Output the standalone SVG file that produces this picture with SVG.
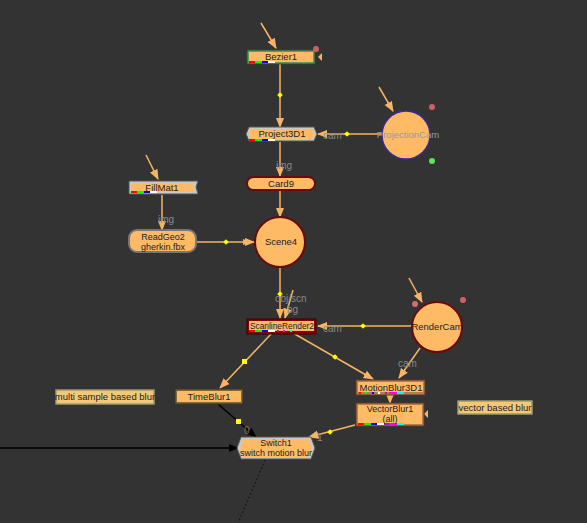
<svg xmlns="http://www.w3.org/2000/svg" width="587" height="523" viewBox="0 0 587 523">
<defs>
<marker id="ah" viewBox="0 0 10 10" refX="9" refY="5" markerWidth="7" markerHeight="7" orient="auto"><path d="M0,1 L10,5 L0,9 Z" fill="#f5b466"/></marker>
<marker id="ahk" viewBox="0 0 10 10" refX="9" refY="5" markerWidth="7" markerHeight="7" orient="auto"><path d="M0,1 L10,5 L0,9 Z" fill="#000"/></marker>
<style>
.bg{fill:#333333}
.c{stroke:#f5b466;stroke-width:1.5;fill:none}
.k{stroke:#000;stroke-width:1.5;fill:none}
.n{fill:#ffba66}
.t{font-family:"Liberation Sans",Arial,sans-serif;font-size:9.5px;fill:#222;text-anchor:middle}
.t2{font-family:"Liberation Sans",Arial,sans-serif;font-size:9px;fill:#222;text-anchor:middle}
.lbl{font-family:"Liberation Sans",Arial,sans-serif;font-size:10px;fill:#8a8a8a}
.dot{fill:#ffff00}
.st{fill:#f5c778;stroke:#9a9a70;stroke-width:1.5}
</style>
</defs>
<rect class="bg" x="0" y="0" width="587" height="523"/>
<g id="connectors">
<line class="c" x1="261" y1="23" x2="276" y2="48" marker-end="url(#ah)"/>
<line class="c" x1="280" y1="64" x2="280" y2="127" marker-end="url(#ah)"/>
<rect class="dot" x="278" y="93" width="4" height="4" transform="rotate(45 280 95)"/>
<line class="c" x1="379" y1="87" x2="393" y2="111" marker-end="url(#ah)"/>
<line class="c" x1="383" y1="134" x2="318" y2="134" marker-end="url(#ah)"/>
<rect class="dot" x="345" y="132" width="4" height="4" transform="rotate(45 347 134)"/>
<text class="lbl" x="323" y="139">cam</text>
<line class="c" x1="280" y1="142" x2="280" y2="176" marker-end="url(#ah)"/>
<text class="lbl" x="276" y="169">img</text>
<line class="c" x1="280" y1="191" x2="280" y2="217" marker-end="url(#ah)"/>
<line class="c" x1="146" y1="155" x2="158" y2="179" marker-end="url(#ah)"/>
<line class="c" x1="162" y1="195" x2="162" y2="230" marker-end="url(#ah)"/>
<text class="lbl" x="158" y="223">img</text>
<line class="c" x1="197" y1="242" x2="254" y2="242" marker-end="url(#ah)"/>
<path d="M243,239 L250,242 L243,245 Z" fill="#f5b466"/>
<rect class="dot" x="224" y="240" width="4" height="4" transform="rotate(45 226 242)"/>
<line class="c" x1="280" y1="268" x2="280" y2="318" marker-end="url(#ah)"/>
<line class="c" x1="293" y1="290" x2="285" y2="318" marker-end="url(#ah)"/>
<rect class="dot" x="278" y="292" width="4" height="4" transform="rotate(45 280 294)"/>
<text class="lbl" x="275" y="302">obj/scn</text>
<text class="lbl" x="287" y="313">bg</text>
<line class="c" x1="409" y1="278" x2="422" y2="302" marker-end="url(#ah)"/>
<line class="c" x1="412" y1="326" x2="318" y2="326" marker-end="url(#ah)"/>
<rect class="dot" x="361" y="324" width="4" height="4" transform="rotate(45 363 326)"/>
<text class="lbl" x="323" y="332">cam</text>
<line class="c" x1="272" y1="333" x2="220" y2="388" marker-end="url(#ah)"/>
<rect class="dot" x="242" y="359" width="5" height="5"/>
<line class="c" x1="293" y1="333" x2="373" y2="379" marker-end="url(#ah)"/>
<rect class="dot" x="333" y="355" width="4" height="4" transform="rotate(45 335 357)"/>
<line class="c" x1="420" y1="348" x2="399" y2="378" marker-end="url(#ah)"/>
<text class="lbl" x="398" y="367">cam</text>
<line class="c" x1="390" y1="395" x2="390" y2="403" marker-end="url(#ah)"/>
<line class="k" x1="218" y1="404" x2="256" y2="437" marker-end="url(#ahk)"/>
<rect class="dot" x="236" y="419" width="5" height="5"/>
<text class="lbl" x="244" y="434" style="fill:#8a6a40">0</text>
<line class="k" x1="0" y1="448" x2="238" y2="448" marker-end="url(#ahk)"/>
<line class="c" x1="355" y1="425" x2="309" y2="437" marker-end="url(#ah)"/>
<rect class="dot" x="328" y="430" width="4" height="4" transform="rotate(45 330 432)"/>
<text class="lbl" x="317" y="441">1</text>
<line x1="265" y1="460" x2="238" y2="523" stroke="#111" stroke-width="1.2" stroke-dasharray="1.5,2.5"/>
<path d="M318,57 L322,53 L322,61 Z" fill="#f5b466"/>
<path d="M424,414 L428,410 L428,418 Z" fill="#f5b466"/>
</g>
<g id="Bezier1">
<rect x="247" y="50" width="68" height="14" fill="#5e9a5e" stroke="#2a4a2a" stroke-width="1"/>
<rect class="n" x="249" y="52" width="64" height="10"/>
<rect x="249" y="61" width="6" height="2" fill="#f00"/><rect x="255" y="61" width="7" height="2" fill="#0f0"/><rect x="262" y="61" width="6" height="2" fill="#00f"/><rect x="268" y="61" width="7" height="2" fill="#fff"/>
<text class="t" x="281" y="60">Bezier1</text>
<circle cx="316" cy="49" r="3" fill="#d06060"/>
</g>
<g id="Project3D1">
<path d="M249,127 L314,127 L317,134 L314,141 L249,141 L246,134 Z" fill="#c8c8c8" stroke="#555" stroke-width="1"/>
<rect class="n" x="250" y="129" width="63" height="10"/>
<rect x="249" y="139" width="6" height="2" fill="#f00"/><rect x="255" y="139" width="7" height="2" fill="#0f0"/><rect x="262" y="139" width="6" height="2" fill="#00f"/><rect x="268" y="139" width="7" height="2" fill="#fff"/>
<text class="t" x="282" y="137">Project3D1</text>
</g>
<g id="ProjectionCam">
<circle class="n" cx="406" cy="135" r="24" stroke="#3a2aa0" stroke-width="1.5"/>
<text class="t" x="408" y="138" style="fill:#9a9a9a">ProjectionCam</text>
<circle cx="432" cy="107" r="3" fill="#d06060"/>
<circle cx="432" cy="161" r="3" fill="#60e060"/>
</g>
<g id="Card9">
<rect class="n" x="247" y="177" width="68" height="13" rx="6.5" stroke="#6a0a0a" stroke-width="2"/>
<text class="t" x="281" y="187">Card9</text>
</g>
<g id="Scene4">
<circle class="n" cx="280" cy="242" r="25" stroke="#6a0a0a" stroke-width="2"/>
<text class="t" x="281" y="245">Scene4</text>
</g>
<g id="FillMat1">
<path d="M129,181 L198,181 L196,187 L198,194 L129,194 Z" fill="#c8c8c8" stroke="#555" stroke-width="1"/>
<rect class="n" x="131" y="183" width="63" height="9"/>
<rect x="131" y="191" width="6" height="2" fill="#f00"/><rect x="137" y="191" width="7" height="2" fill="#0f0"/><rect x="144" y="191" width="6" height="2" fill="#00f"/><rect x="150" y="191" width="7" height="2" fill="#fff"/>
<text class="t" x="162" y="191">FillMat1</text>
</g>
<g id="ReadGeo2">
<rect class="n" x="129" y="230" width="67" height="22" rx="8" stroke="#777" stroke-width="2"/>
<text class="t2" x="163" y="240">ReadGeo2</text>
<text class="t2" x="163" y="250">gherkin.fbx</text>
</g>
<g id="ScanlineRender2">
<rect x="247" y="319" width="69" height="15" fill="#8a0000" stroke="#3a0000" stroke-width="1"/>
<rect class="n" x="249" y="321" width="65" height="10"/>
<rect x="249" y="330" width="6" height="2" fill="#f00"/><rect x="255" y="330" width="7" height="2" fill="#0f0"/><rect x="262" y="330" width="6" height="2" fill="#00f"/><rect x="268" y="330" width="7" height="2" fill="#fff"/><rect x="277" y="330" width="2" height="2" fill="#a020a0"/><rect x="283" y="330" width="2" height="2" fill="#f0f"/><rect x="290" y="330" width="2" height="2" fill="#0ff"/>
<text class="t" x="282" y="329" textLength="64" lengthAdjust="spacingAndGlyphs">ScanlineRender2</text>
</g>
<g id="RenderCam">
<circle class="n" cx="437" cy="327" r="25" stroke="#6a0a0a" stroke-width="2"/>
<text class="t" x="437" y="330">RenderCam</text>
<circle cx="415" cy="304" r="3" fill="#d07070"/>
<circle cx="463" cy="300" r="3" fill="#d06060"/>
</g>
<g id="MotionBlur3D1">
<rect x="356" y="380" width="69" height="15" fill="#b87a50" stroke="#5a3a20" stroke-width="1"/>
<rect class="n" x="358" y="382" width="65" height="10"/>
<rect x="359" y="392" width="2" height="2" fill="#f00"/><rect x="365" y="392" width="2" height="2" fill="#0f0"/><rect x="372" y="392" width="2" height="2" fill="#00f"/><rect x="378" y="392" width="2" height="2" fill="#fff"/><rect x="385" y="392" width="2" height="2" fill="#a020a0"/><rect x="389" y="392" width="8" height="2" fill="#f0f"/><rect x="397" y="392" width="7" height="2" fill="#0ff"/>
<text class="t" x="391" y="391">MotionBlur3D1</text>
</g>
<g id="VectorBlur1">
<rect x="356" y="403" width="68" height="23" fill="#b87a50" stroke="#5a3a20" stroke-width="1"/>
<rect class="n" x="358" y="405" width="64" height="19"/>
<rect x="358" y="423" width="6" height="2" fill="#f00"/><rect x="364" y="423" width="7" height="2" fill="#0f0"/><rect x="371" y="423" width="6" height="2" fill="#00f"/><rect x="377" y="423" width="7" height="2" fill="#fff"/><rect x="384" y="423" width="5" height="2" fill="#a020a0"/><rect x="389" y="423" width="8" height="2" fill="#f0f"/><rect x="397" y="423" width="7" height="2" fill="#0ff"/>
<text class="t2" x="390" y="412">VectorBlur1</text>
<text class="t2" x="390" y="422">(all)</text>
</g>
<g id="vector_based_blur">
<rect class="st" x="458" y="401" width="74" height="13"/>
<text class="t" x="495" y="411">vector based blur</text>
</g>
<g id="multi_sample_based_blur">
<rect class="st" x="56" y="390" width="98" height="14"/>
<text class="t" x="105" y="400">multi sample based blur</text>
</g>
<g id="TimeBlur1">
<rect x="175" y="389" width="68" height="15" fill="#7a6a40" stroke="#3a3020" stroke-width="1"/>
<rect class="n" x="177" y="391" width="64" height="11"/>
<text class="t" x="209" y="400">TimeBlur1</text>
</g>
<g id="Switch1">
<path d="M241,437 L311,437 L315,448 L311,459 L241,459 L237,448 Z" fill="#c8c8c8" stroke="#555" stroke-width="1"/>
<path d="M243,439 L309,439 L312,448 L309,457 L243,457 L240,448 Z" class="n"/>
<text class="t2" x="276" y="446">Switch1</text>
<text class="t2" x="276" y="456">switch motion blur</text>
</g>
</svg>
